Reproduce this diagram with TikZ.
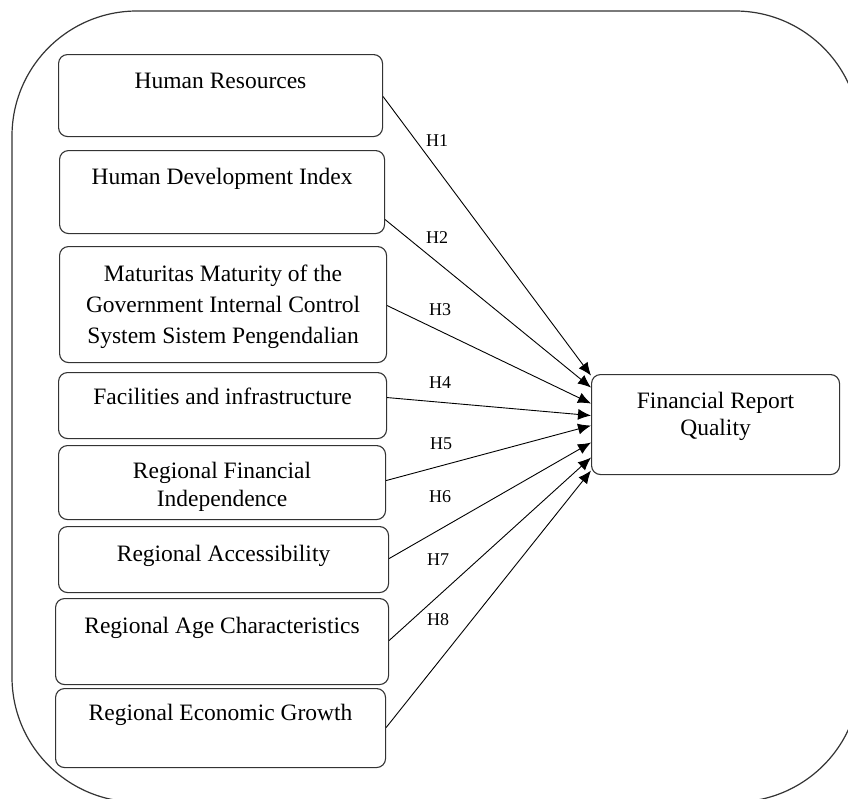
\documentclass[tikz,border=0pt]{standalone}
\usepackage{fontspec}
\setmainfont{Liberation Serif}
\usetikzlibrary{arrows.meta}

\tikzset{
  var/.style={draw=black!80, line width=1.1pt, rounded corners=9pt, anchor=north west, inner sep=0pt},
  ttl/.style={anchor=north, inner sep=0pt, align=center, font=\fontsize{23.5}{29}\selectfont},
  hyp/.style={inner sep=0pt, font=\fontsize{18}{20}\selectfont},
  link/.style={->, >={Latex[length=13pt,width=11pt]}, line width=0.9pt}
}

\begin{document}
\begin{tikzpicture}[x=1pt, y=-1pt]

    \useasboundingbox (0,0) rectangle (848,798);
    % outer frame
    \draw[black!80, line width=1.2pt, rounded corners=125pt] (12,11) rectangle (860,802);

    % independent variables
    \node[var, minimum width=324pt, minimum height=82pt,
      label={[ttl, yshift=-19pt]north:Human Resources}] (hr) at (58,54) {};
    \node[var, minimum width=325pt, minimum height=83pt,
      label={[ttl, yshift=-18pt]north:Human Development Index}] (hdi) at (59,150) {};
    \node[var, minimum width=327pt, minimum height=116pt,
      label={[ttl, yshift=-19pt, font=\fontsize{23.5}{31}\selectfont]north:{Maturitas Maturity of the\\Government Internal Control\\System Sistem Pengendalian}}] (sip) at (59,246) {};
    \node[var, minimum width=328pt, minimum height=66pt,
      label={[ttl, yshift=-16pt]north:Facilities and infrastructure}] (fi) at (58,372) {};
    \node[var, minimum width=327pt, minimum height=74pt,
      label={[ttl, yshift=-17pt, font=\fontsize{23.5}{28}\selectfont]north:{Regional Financial\\Independence}}] (rfi) at (58,445) {};
    \node[var, minimum width=330pt, minimum height=66pt,
      label={[ttl, yshift=-19pt]north:Regional Accessibility}] (ra) at (58,526) {};
    \node[var, minimum width=333pt, minimum height=86pt,
      label={[ttl, yshift=-19pt]north:Regional Age Characteristics}] (rac) at (55,598) {};
    \node[var, minimum width=330pt, minimum height=79pt,
      label={[ttl, yshift=-16pt]north:Regional Economic Growth}] (reg) at (55,688) {};

    % dependent variable
    \node[var, minimum width=248pt, minimum height=100pt,
      label={[ttl, yshift=-18pt, font=\fontsize{23.5}{27}\selectfont]north:{Financial Report\\Quality}}] (frq) at (591,374) {};

    % hypotheses
    \foreach \src/\a/\b in {hr/-1/49, hdi/-27.5/37, sip/-1/21, fi/8/9, rfi/2/-1, ra/1/-18, rac/1/-33, reg/0.5/-46}
      \draw[link] ([yshift=\a pt]\src.east) -- ([yshift=\b pt]frq.west);
    \foreach \x/\y [count=\i] in {437/141, 437/238, 440/310, 440/383, 441/444, 440/497, 438/560, 438/620}
      \node[hyp] (h\i) at (\x,\y) {H\i};

\end{tikzpicture}
\end{document}
